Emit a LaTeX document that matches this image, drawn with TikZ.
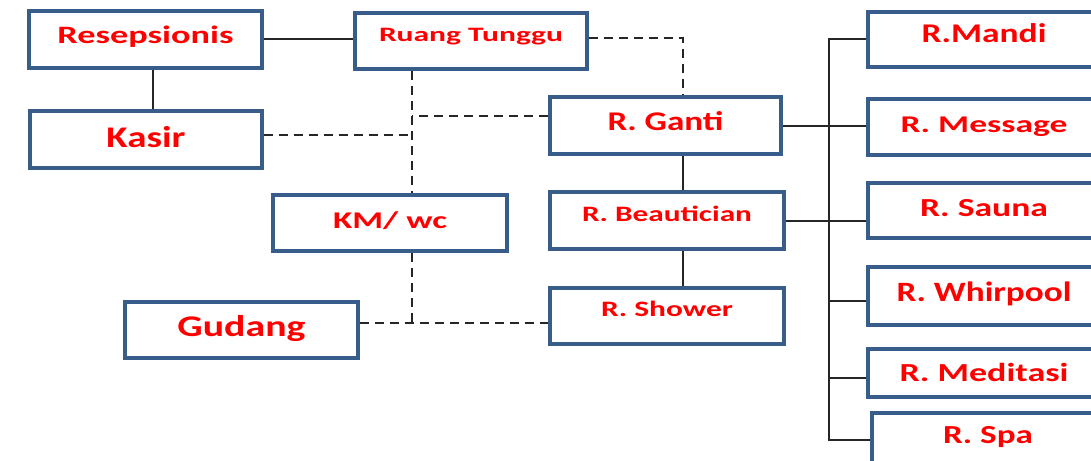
\documentclass[tikz,border=0pt]{standalone}
\usepackage{fontspec}
\setmainfont{Carlito}
\definecolor{boxblue}{RGB}{56,93,138}
\definecolor{txtred}{RGB}{255,0,0}
\definecolor{linegray}{RGB}{38,38,38}
\newcommand{\fw}[2]{\resizebox{#1pt}{\height}{\bfseries #2}}
\tikzset{
  room/.style n args={3}{draw=boxblue, line width=3.2pt, fill=white, text=txtred, inner sep=0pt,
     font=\fontsize{#1}{#1}\selectfont, text height=#3, text depth=#2},
  conn/.style={draw=linegray, line width=2pt},
  dconn/.style={draw=linegray, line width=2pt, dash pattern=on 9pt off 6pt}
}
\begin{document}
\begin{tikzpicture}[x=1pt,y=-1pt]
\useasboundingbox (0,0) rectangle (1091,460);
\clip (0,0) rectangle (1091,460);
\fill[white] (0,0) rectangle (1091,460);

% left / middle boxes
\node[room={25}{8pt}{15.8pt}, minimum width=233pt, minimum height=57pt] (res) at (145.5,39.5) {\fw{176}{Resepsionis}};
\node[room={30}{4pt}{19pt}, minimum width=232pt, minimum height=57pt] (kas) at (146,139.5) {\fw{79}{Kasir}};
\node[room={20.5}{12pt}{13pt}, minimum width=232pt, minimum height=56pt] (rt) at (471,41) {\fw{184}{Ruang Tunggu}};
\node[room={27}{8pt}{17.1pt}, minimum width=231pt, minimum height=57pt] (gan) at (665.5,125.5) {\fw{116}{R. Ganti}};
\node[room={24}{5pt}{15.2pt}, minimum width=234pt, minimum height=56pt] (km) at (390,223) {\fw{114}{KM/ wc}};
\node[room={30}{6pt}{19pt}, minimum width=233pt, minimum height=56pt] (gud) at (241.5,330) {\fw{128}{Gudang}};
\node[room={22}{12pt}{13.9pt}, minimum width=234pt, minimum height=57pt] (beau) at (667,220.5) {\fw{170}{R. Beautician}};
\node[room={22}{12pt}{13.9pt}, minimum width=234pt, minimum height=56pt] (sho) at (667,316) {\fw{132}{R. Shower}};

% right column
\node[room={27}{11pt}{17.1pt}, minimum width=232pt, minimum height=55pt] (man) at (984,39.5) {\fw{125}{R.Mandi}};
\node[room={24}{5pt}{15.2pt}, minimum width=232pt, minimum height=56pt] (mes) at (984,127) {\fw{167}{R. Message}};
\node[room={26}{4pt}{16.4pt}, minimum width=232pt, minimum height=55pt] (sau) at (984,210.5) {\fw{128}{R. Sauna}};
\node[room={28}{7pt}{17.7pt}, minimum width=232pt, minimum height=58pt] (whi) at (984,296) {\fw{175}{R. Whirpool}};
\node[room={26}{0pt}{16.4pt}, minimum width=232pt, minimum height=48pt] (med) at (984,373) {\fw{169}{R. Meditasi}};
\node[room={26}{10pt}{16.4pt}, minimum width=232pt, minimum height=54pt] (spa) at (988,440) {\fw{90}{R. Spa}};

% solid connectors
\draw[conn] (res.east) -- (res.east -| rt.west);
\draw[conn] ([xshift=7pt]res.south) -- ([xshift=7pt]res.south |- kas.north);
\draw[conn] ([xshift=17.5pt]gan.south) -- ([xshift=17.5pt]gan.south |- beau.north);
\draw[conn] ([xshift=16pt]beau.south) -- ([xshift=16pt]beau.south |- sho.north);

% dashed connectors
\coordinate (vx) at ([xshift=-59pt]rt.south);
\draw[dconn] ([yshift=3pt]rt.east) -| ([xshift=17.5pt]gan.north);
\draw[dconn] (vx) -- (vx |- km.north);
\draw[dconn] ([yshift=9.5pt]gan.west) -- ([yshift=9.5pt]gan.west -| vx);
\draw[dconn] ([yshift=4.5pt]kas.east) -- ([yshift=4.5pt]kas.east -| vx);
\coordinate (j) at (412,323);
\draw[dconn] (km.south -| j) -- (j);
\draw[dconn] (gud.east |- j) -- (sho.west |- j);

% right bus
\coordinate (bus) at (829,0);
\draw[conn] (gan.east) -- (gan.east -| mes.west);
\draw[conn] (beau.east) -- (beau.east -| sau.west);
\draw[conn] (man.west) -| (bus |- spa.west) -- (spa.west);
\draw[conn] ([yshift=-5pt]whi.west -| bus) -- ([yshift=-5pt]whi.west);
\draw[conn] ([yshift=-5pt]med.west -| bus) -- ([yshift=-5pt]med.west);
\end{tikzpicture}
\end{document}
